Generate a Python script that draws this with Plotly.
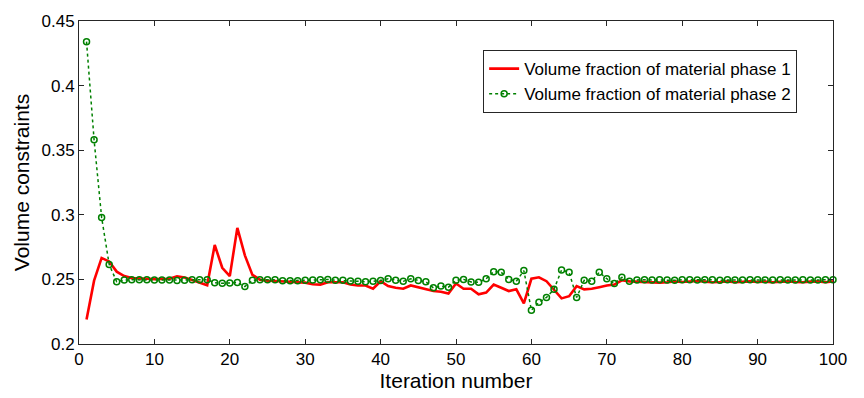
import plotly.graph_objects as go

iterations = list(range(1, 101))

phase1 = [0.219, 0.249, 0.2666, 0.2638, 0.256, 0.2526, 0.251, 0.2505, 0.2505, 0.2502,
          0.2502, 0.2505, 0.2523, 0.2515, 0.2495, 0.2475, 0.2455, 0.2766, 0.259, 0.2525,
          0.2899, 0.2686, 0.2535, 0.2498, 0.249, 0.2488, 0.2485, 0.2485, 0.2482, 0.2475,
          0.2462, 0.246, 0.2478, 0.2478, 0.2478, 0.246, 0.2453, 0.2453, 0.2428, 0.2486,
          0.2448, 0.2435, 0.2428, 0.2453, 0.244, 0.2428, 0.241, 0.2405, 0.239, 0.2468,
          0.2428, 0.2428, 0.2385, 0.2398, 0.246, 0.2435, 0.241, 0.2423, 0.2315, 0.2505,
          0.2516, 0.2486, 0.2423, 0.2353, 0.237, 0.2448, 0.2423, 0.2428, 0.244, 0.2453,
          0.246, 0.2493, 0.2485, 0.2482, 0.2478, 0.248, 0.2475, 0.2478, 0.2485, 0.248,
          0.2482, 0.2488, 0.2483, 0.2478, 0.248, 0.2485, 0.2478, 0.2482, 0.2485, 0.248,
          0.2483, 0.2478, 0.2482, 0.2485, 0.248, 0.2478, 0.2483, 0.2485, 0.2478, 0.2485]

phase2 = [0.434, 0.358, 0.298, 0.2616, 0.2482, 0.2495, 0.2497, 0.2498, 0.2497, 0.2495,
          0.2495, 0.2495, 0.2492, 0.2494, 0.2497, 0.2497, 0.2497, 0.2475, 0.247, 0.2473,
          0.2476, 0.2445, 0.2493, 0.2498, 0.2498, 0.2497, 0.249, 0.249, 0.249, 0.2493,
          0.2495, 0.2497, 0.25, 0.2493, 0.2493, 0.2488, 0.2486, 0.2482, 0.2486, 0.2492,
          0.2505, 0.2493, 0.2485, 0.2505, 0.2492, 0.2481, 0.2435, 0.2448, 0.244, 0.2493,
          0.25, 0.248, 0.2478, 0.2505, 0.256, 0.2555, 0.25, 0.2486, 0.2568, 0.2261,
          0.2323, 0.236, 0.2423, 0.2573, 0.2555, 0.236, 0.2493, 0.2486, 0.2555, 0.2505,
          0.2468, 0.2516, 0.2486, 0.2496, 0.2497, 0.2495, 0.2497, 0.2496, 0.2493, 0.2497,
          0.2498, 0.2495, 0.2497, 0.2497, 0.2494, 0.2497, 0.2496, 0.2495, 0.2497, 0.2497,
          0.2496, 0.2495, 0.2497, 0.2496, 0.2495, 0.2497, 0.2495, 0.2496, 0.2497, 0.2497]

x_ticks = list(range(0, 101, 10))
y_ticks = [0.2, 0.25, 0.3, 0.35, 0.4, 0.45]
y_labels = ["0.2", "0.25", "0.3", "0.35", "0.4", "0.45"]

FONT = "Liberation Sans, Arial, sans-serif"
AX = "#262626"

fig = go.Figure()
fig.add_trace(go.Scatter(
    x=iterations, y=phase1, mode="lines",
    name="Volume fraction of material phase 1",
    line=dict(color="#ff0000", width=2.6),
    cliponaxis=False,
))
fig.add_trace(go.Scatter(
    x=iterations, y=phase2, mode="lines+markers",
    name="Volume fraction of material phase 2",
    line=dict(color="#008000", width=1.5, dash="dot"),
    marker=dict(symbol="circle-open", size=6, color="#008000", line=dict(width=1.5, color="#008000")),
    cliponaxis=False,
))

fig.update_layout(
    width=864, height=398,
    margin=dict(l=79, r=31, t=15, b=50),
    paper_bgcolor="white", plot_bgcolor="white",
    font=dict(family=FONT, size=17, color="black"),
    showlegend=True,
    legend=dict(
        x=0.536, y=0.91, xanchor="left", yanchor="top",
        bgcolor="white", bordercolor=AX, borderwidth=1,
        font=dict(family=FONT, size=17, color="black"),
        tracegroupgap=0, itemwidth=30,
    ),
)
fig.update_xaxes(
    range=[0, 100], tickvals=x_ticks, ticks="inside", ticklen=5, tickcolor=AX,
    showline=True, linecolor=AX, linewidth=1, mirror="ticks",
    showgrid=False, zeroline=False,
    title=dict(text="Iteration number", font=dict(family=FONT, size=21), standoff=2),
    tickfont=dict(family=FONT, size=17),
)
fig.update_yaxes(
    range=[0.2, 0.45], tickvals=y_ticks, ticktext=y_labels, ticks="inside", ticklen=5, tickcolor=AX,
    showline=True, linecolor=AX, linewidth=1, mirror="ticks",
    showgrid=False, zeroline=False,
    title=dict(text="Volume constraints", font=dict(family=FONT, size=21), standoff=6),
    tickfont=dict(family=FONT, size=17),
)

fig.write_html("out.html")
